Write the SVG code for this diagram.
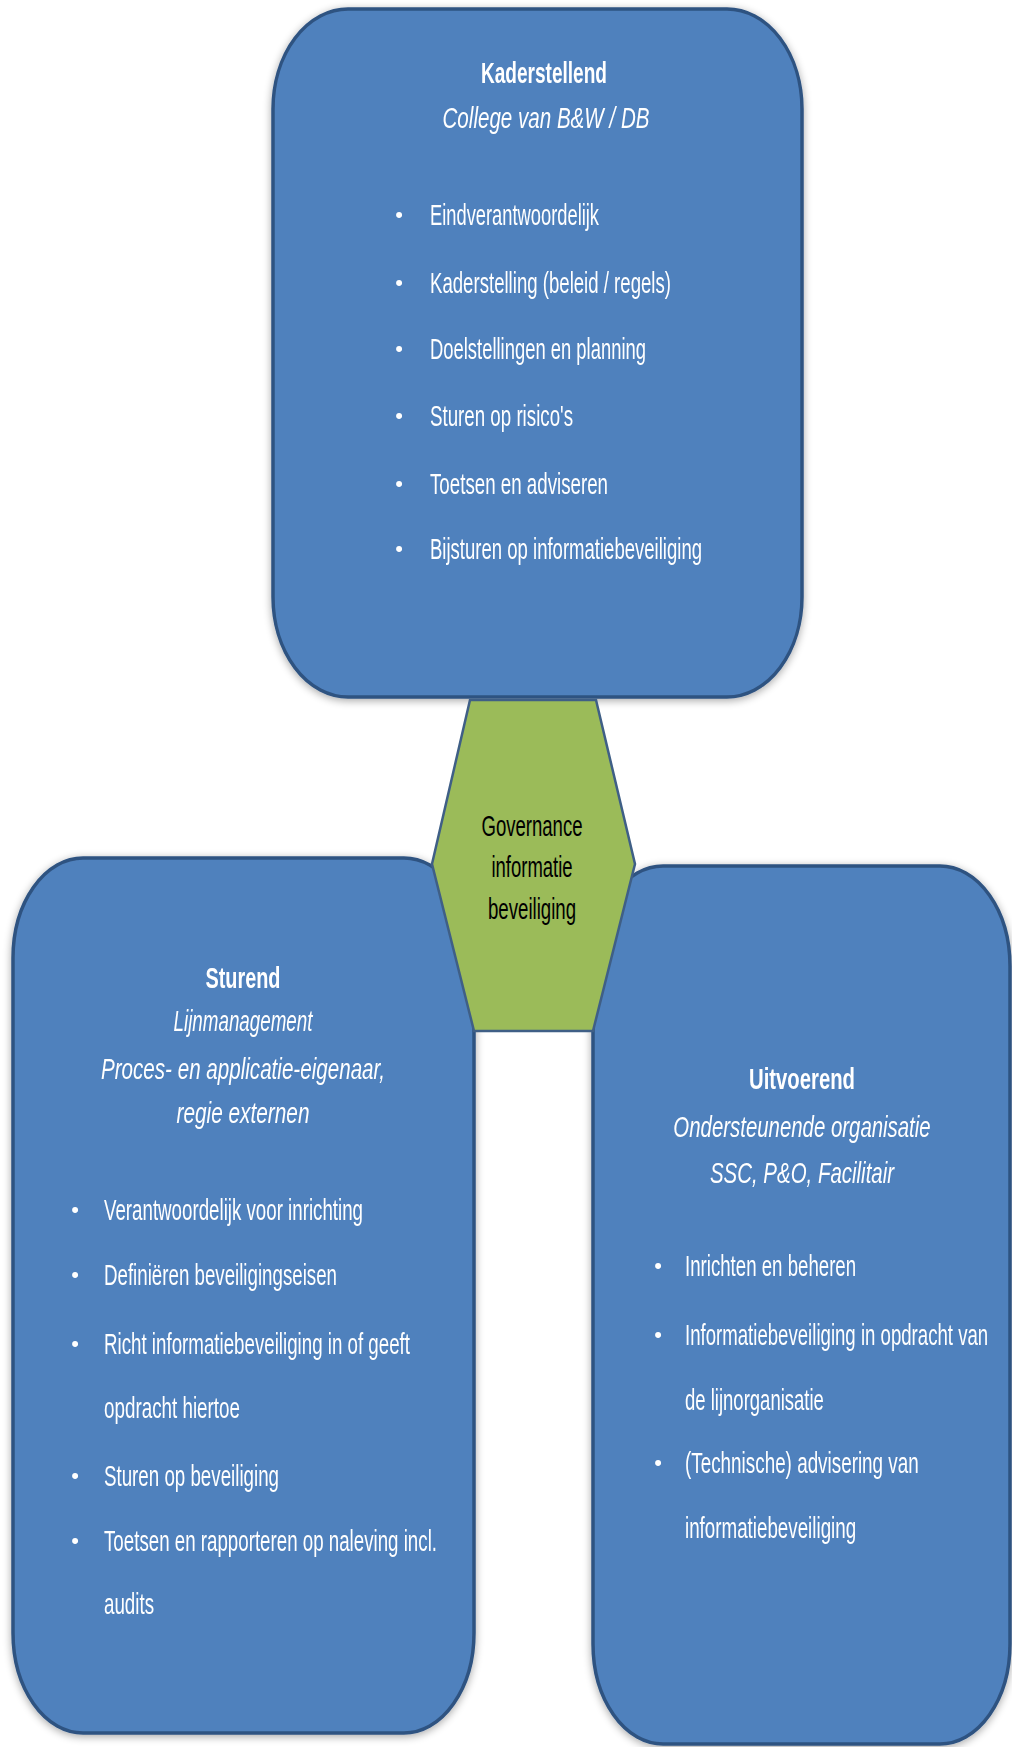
<svg xmlns="http://www.w3.org/2000/svg" width="1012" height="1747" viewBox="0 0 1012 1747">
<defs>
<filter id="sh" x="-5%" y="-5%" width="110%" height="110%">
<feGaussianBlur in="SourceAlpha" stdDeviation="4"/>
<feOffset dx="0" dy="2" result="b"/>
<feComponentTransfer><feFuncA type="linear" slope="0.35"/></feComponentTransfer>
<feMerge><feMergeNode/><feMergeNode in="SourceGraphic"/></feMerge>
</filter>
</defs>
<style>
.box{fill:#4F81BD;stroke:#2F5381;stroke-width:3.5}
.hex{fill:#9BBB59;stroke:#3F5F86;stroke-width:2.5}
.t{font-family:"Liberation Sans",Arial,sans-serif;font-size:30px;fill:#FFFFFF}
.b{font-weight:bold;text-anchor:middle}
.i{font-style:italic;text-anchor:middle}
.g{font-family:"Liberation Sans",Arial,sans-serif;font-size:30px;fill:#000000;text-anchor:middle}
.bul{font-family:"Liberation Sans",Arial,sans-serif;font-size:22px;fill:#FFFFFF;text-anchor:middle}
</style>
<rect width="1012" height="1747" fill="#FFFFFF"/>
<g id="connectors"/>
<g id="kaderstellend" filter="url(#sh)">
<path class="box" d="M348,9 H727 A75,100 0 0 1 802,109 V597 A75,100 0 0 1 727,697 H348 A75,100 0 0 1 273,597 V109 A75,100 0 0 1 348,9 Z"/>
<text class="t b" x="544" y="83" textLength="126" lengthAdjust="spacingAndGlyphs">Kaderstellend</text>
<text class="t i" x="546" y="128" textLength="207" lengthAdjust="spacingAndGlyphs">College van B&amp;W /  DB</text>
<text class="bul" x="399" y="222">•</text>
<text class="t" x="430" y="225" textLength="169" lengthAdjust="spacingAndGlyphs">Eindverantwoordelijk</text>
<text class="bul" x="399" y="290">•</text>
<text class="t" x="430" y="293" textLength="241" lengthAdjust="spacingAndGlyphs">Kaderstelling (beleid / regels)</text>
<text class="bul" x="399" y="356">•</text>
<text class="t" x="430" y="359" textLength="216" lengthAdjust="spacingAndGlyphs">Doelstellingen en planning</text>
<text class="bul" x="399" y="423">•</text>
<text class="t" x="430" y="426" textLength="143" lengthAdjust="spacingAndGlyphs">Sturen op risico's</text>
<text class="bul" x="399" y="491">•</text>
<text class="t" x="430" y="494" textLength="178" lengthAdjust="spacingAndGlyphs">Toetsen en adviseren</text>
<text class="bul" x="399" y="556">•</text>
<text class="t" x="430" y="559" textLength="272" lengthAdjust="spacingAndGlyphs">Bijsturen op informatiebeveiliging</text>
</g>
<g id="sturend" filter="url(#sh)">
<path class="box" d="M83,858 H404 A70,100 0 0 1 474,958 V1633 A70,100 0 0 1 404,1733 H83 A70,100 0 0 1 13,1633 V958 A70,100 0 0 1 83,858 Z"/>
<text class="t b" x="243" y="988" textLength="75" lengthAdjust="spacingAndGlyphs">Sturend</text>
<text class="t i" x="243" y="1031" textLength="139" lengthAdjust="spacingAndGlyphs">Lijnmanagement</text>
<text class="t i" x="243" y="1079" textLength="284" lengthAdjust="spacingAndGlyphs">Proces- en applicatie-eigenaar,</text>
<text class="t i" x="243" y="1123" textLength="133" lengthAdjust="spacingAndGlyphs">regie externen</text>
<text class="bul" x="75" y="1217">•</text>
<text class="t" x="104" y="1220" textLength="259" lengthAdjust="spacingAndGlyphs">Verantwoordelijk voor inrichting</text>
<text class="bul" x="75" y="1282">•</text>
<text class="t" x="104" y="1285" textLength="233" lengthAdjust="spacingAndGlyphs">Definiëren beveiligingseisen</text>
<text class="bul" x="75" y="1351">•</text>
<text class="t" x="104" y="1354" textLength="306" lengthAdjust="spacingAndGlyphs">Richt informatiebeveiliging in of geeft</text>
<text class="t" x="104" y="1418" textLength="136" lengthAdjust="spacingAndGlyphs">opdracht hiertoe</text>
<text class="bul" x="75" y="1483">•</text>
<text class="t" x="104" y="1486" textLength="175" lengthAdjust="spacingAndGlyphs">Sturen op beveiliging</text>
<text class="bul" x="75" y="1548">•</text>
<text class="t" x="104" y="1551" textLength="333" lengthAdjust="spacingAndGlyphs">Toetsen en rapporteren op naleving incl.</text>
<text class="t" x="104" y="1614" textLength="50" lengthAdjust="spacingAndGlyphs">audits</text>
</g>
<g id="uitvoerend" filter="url(#sh)">
<path class="box" d="M663,866 H940 A70,100 0 0 1 1010,966 V1644 A70,100 0 0 1 940,1744 H663 A70,100 0 0 1 593,1644 V966 A70,100 0 0 1 663,866 Z"/>
<g transform="translate(802,0) scale(0.62,1)">
<text class="t b" x="0" y="1089" textLength="171" lengthAdjust="spacingAndGlyphs">Uitvoerend</text>
<text class="t i" x="0" y="1137" textLength="415" lengthAdjust="spacingAndGlyphs">Ondersteunende organisatie</text>
<text class="t i" x="0" y="1183" textLength="297" lengthAdjust="spacingAndGlyphs">SSC, P&amp;O, Facilitair</text>
</g>
<text class="bul" x="658" y="1273">•</text>
<text class="bul" x="658" y="1342">•</text>
<text class="bul" x="658" y="1470">•</text>
<g transform="translate(685,0) scale(0.62,1)">
<text class="t" x="0" y="1276" textLength="276" lengthAdjust="spacingAndGlyphs">Inrichten en beheren</text>
<text class="t" x="0" y="1345" textLength="489" lengthAdjust="spacingAndGlyphs">Informatiebeveiliging in opdracht van</text>
<text class="t" x="0" y="1410" textLength="224" lengthAdjust="spacingAndGlyphs">de lijnorganisatie</text>
<text class="t" x="0" y="1473" textLength="377" lengthAdjust="spacingAndGlyphs">(Technische) advisering van</text>
<text class="t" x="0" y="1538" textLength="276" lengthAdjust="spacingAndGlyphs">informatiebeveiliging</text>
</g>
</g>
<g id="governance">
<polygon class="hex" points="470,700 596,700 635,864 593,1031 474,1031 432,864"/>
<text class="g" x="532" y="836" textLength="101" lengthAdjust="spacingAndGlyphs">Governance</text>
<text class="g" x="532" y="877" textLength="81" lengthAdjust="spacingAndGlyphs">informatie</text>
<text class="g" x="532" y="919" textLength="88" lengthAdjust="spacingAndGlyphs">beveiliging</text>
</g>
</svg>
